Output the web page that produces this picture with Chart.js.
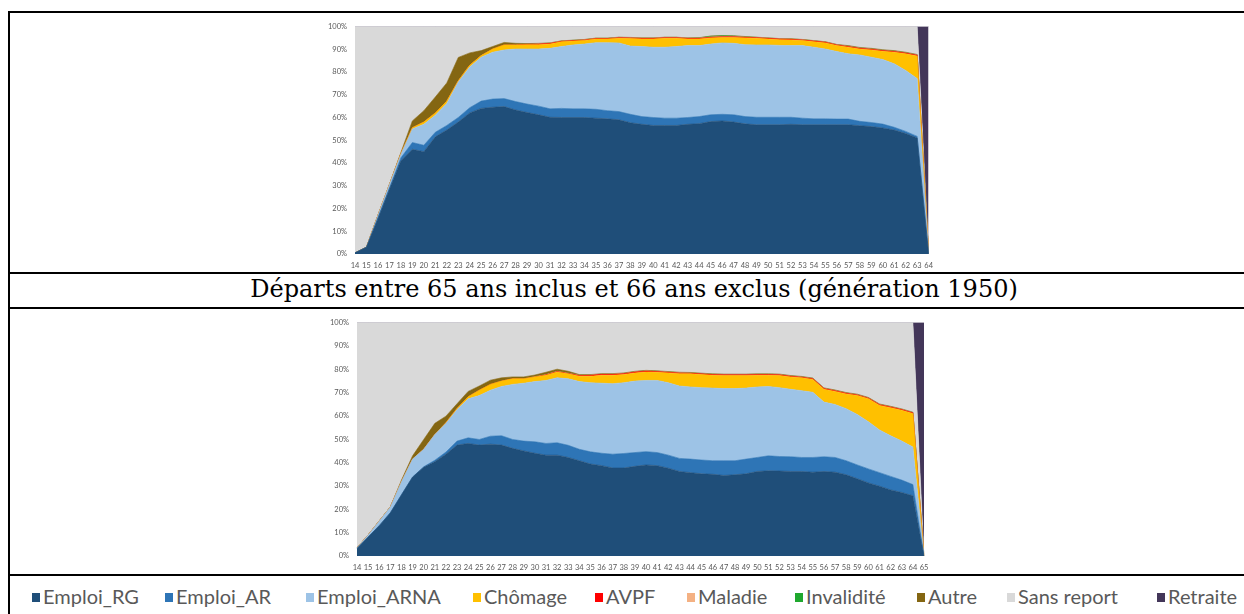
<!DOCTYPE html>
<html>
<head>
<meta charset="utf-8">
<script src="https://cdn.jsdelivr.net/npm/chart.js@4.4.1/dist/chart.umd.min.js"></script>
<style>
  body { margin: 0; background: #fff; width: 1244px; height: 614px; overflow: hidden; position: relative; }
  .hl { position: absolute; left: 8px; right: 0; height: 2px; background: #000; z-index: 5; }
  .vl { position: absolute; left: 8px; top: 11px; bottom: 0; width: 2px; background: #000; z-index: 5; }
  .box { position: absolute; }
  #title { position: absolute; left: 10px; width: 1248px; top: 277px; text-align: center;
           font-family: "DejaVu Serif"; font-size: 24px; line-height: 24px; color: #000; white-space: nowrap; }
  .leg { position: absolute; top: 586px; font-family: Lato; font-size: 20px; line-height: 20px;
         color: #595959; white-space: nowrap; padding-left: 11px; }
  .leg i { position: absolute; left: 0; top: 7px; width: 8px; height: 9px; }
</style>
</head>
<body>
<div class="hl" style="top:11px"></div>
<div class="hl" style="top:272px"></div>
<div class="hl" style="top:307px"></div>
<div class="hl" style="top:574px"></div>
<div class="vl"></div>

<div class="box" style="left:290px;top:14px;width:650px;height:258px"><canvas id="c1" width="650" height="258"></canvas></div>
<div id="title">Départs entre 65 ans inclus et 66 ans exclus (génération 1950)</div>
<div class="box" style="left:290px;top:310px;width:650px;height:264px"><canvas id="c2" width="650" height="264"></canvas></div>
<div id="legend"></div>

<script>
// catégories (âge)
const ages1 = ['14','15','16','17','18','19','20','21','22','23','24','25','26','27','28','29','30','31','32','33','34','35','36','37','38','39','40','41','42','43','44','45','46','47','48','49','50','51','52','53','54','55','56','57','58','59','60','61','62','63','64'];
const ages2 = ['14','15','16','17','18','19','20','21','22','23','24','25','26','27','28','29','30','31','32','33','34','35','36','37','38','39','40','41','42','43','44','45','46','47','48','49','50','51','52','53','54','55','56','57','58','59','60','61','62','63','64','65'];

const seriesNames = ['Emploi_RG', 'Emploi_AR', 'Emploi_ARNA', 'Chômage', 'AVPF', 'Maladie', 'Invalidité', 'Autre', 'Sans report', 'Retraite'];
const seriesColors = ['#1F4E79', '#2E75B6', '#9DC3E6', '#FFC000', '#FF0000', '#F4B183', '#1FA82E', '#846612', '#D9D9D9', '#433659'];

// graphique 1 (départs à 64 ans), en %
const rg1 = [0.5,3,15.5,28.5,41,46,45,51.5,54.5,58, 62,64,64.5,64.8,63.3,62.2,61.2,60.1,60,60, 60,59.7,59.4,59,57.7,57,56.5,56.5,56.5,57, 57.3,58.2,58.5,58,57.2,56.8,56.8,56.8,57,56.8, 56.8,56.8,56.8,56.8,56.4,56,55.4,54.5,53,51, 0];
const ar1 = [0,0,0.5,0.5,1.3,3,2.8,2,2,2, 2.3,3.2,3.6,3.5,3.7,3.7,3.8,3.7,4,3.8, 3.8,3.9,3.6,3.6,3.7,3.4,3.5,3.2,3.2,3, 3.1,3,2.9,3.2,3.2,3.3,3.3,3.3,3.1,2.9, 2.6,2.6,2.5,2.5,1.9,1.8,1.7,1.2,0.9,0.7, 0];
const arna1 = [0,0,1,1.5,1.5,6,9.2,7.5,9.7,15.6, 17.9,19.3,20.6,21.4,23.1,24.2,25.1,26.6,27.2,28.1, 28.5,29.3,29.9,30.2,30,30.8,30.9,31.2,31.5,31.6, 31.2,31.1,31.4,31.4,31.6,31.8,31.8,31.6,31.5,31.9, 31.5,30.7,29.7,28.7,29.2,28.7,28.4,27.9,26.8,25.4, 0];
const chom1 = [0,0,0,0,0.3,0.5,1,1,1,0.5, 0.8,0.7,1.4,2.2,1.8,1.9,1.9,1.9,2.1,1.7, 1.6,1.6,1.6,2,3.3,3.3,3.6,3.9,3.6,2.9, 2.9,2.7,2.4,2.6,3,2.9,2.6,2.5,2.5,2.2, 2.4,2.7,2.6,2.9,2.6,3.2,3.6,5.1,7.3,9.9, 0];
const avpf1 = [0,0,0,0,0,0,0,0,0,0, 0,0,0,0,0,0.2,0.3,0.3,0.2,0.2, 0.2,0.2,0.2,0.3,0.3,0.3,0.3,0.3,0.3,0.3, 0.3,0.3,0.3,0.3,0.3,0.3,0.3,0.3,0.3,0.3, 0.3,0.3,0.3,0.3,0.3,0.3,0.3,0.3,0.3,0.4, 0];
const mal1 = [0,0,0,0,0,0,0,0,0,0, 0,0,0,0,0,0,0.1,0.1,0.1,0.1, 0.1,0.1,0.1,0.1,0.1,0.1,0.1,0.1,0.1,0.1, 0.1,0.1,0.1,0.1,0.1,0.1,0.1,0.1,0.1,0.1, 0.1,0.1,0.1,0.1,0.1,0.1,0.1,0.1,0.1,0.1, 0];
const inv1 = [0,0,0,0,0,0,0,0,0,0, 0,0,0,0,0,0,0,0,0,0, 0,0,0,0,0,0,0,0,0,0, 0.1,0.3,0.3,0.2,0.1,0,0,0,0,0, 0,0,0,0,0,0,0,0,0,0, 0];
const autre1 = [0,0,0,0,0.5,3,5,7,8,10.3, 5.4,2.2,1.1,1.1,0.7,0.3,0.2,0.1,0.1,0.1, 0.1,0.1,0.1,0.1,0.1,0.1,0.1,0.1,0.1,0.1, 0.1,0.1,0.1,0.1,0.1,0.1,0.1,0.1,0.1,0.1, 0.1,0.1,0.1,0.3,0.3,0.3,0.3,0.3,0.3,0.2, 0];
const sans1 = [99.5,97,83,69.5,55.4,41.5,37,31,24.8,13.6, 11.6,10.6,8.8,7,7.4,7.5,7.4,7.2,6.3,6, 5.7,5.1,5.1,4.7,4.8,5,5,4.7,4.7,5, 4.9,4.2,4,4.1,4.4,4.7,5,5.3,5.4,5.7, 6.2,6.7,7.9,8.4,9.2,9.6,10.2,10.6,11.3,12.3, 0];
const retr1 = [0,0,0,0,0,0,0,0,0,0, 0,0,0,0,0,0,0,0,0,0, 0,0,0,0,0,0,0,0,0,0, 0,0,0,0,0,0,0,0,0,0, 0,0,0,0,0,0,0,0,0,0, 100];

// graphique 2 (départs entre 65 et 66 ans), en %
const rg2 = [3.2,8.1,13,18.5,26.2,33.8,38,40.4,43.6,47.5, 48.2,47.5,47.9,47.5,46.1,45,44,43.2,43.2,42.2, 40.8,39.4,38.7,37.7,37.7,38.4,39,38.7,37.6,36.2, 35.7,35.2,35,34.5,34.8,35.2,36.2,36.5,36.4,36.2, 36.2,35.9,36.2,35.9,34.8,33.1,31.3,29.9,28.3,27.2, 25.8,0];
const ar2 = [0,0,0,0,0,0,0.2,0.6,0.9,1.7, 2.4,2.4,3.4,4,3.8,4.2,4.9,5,5.3,5.2, 4.9,5.2,5.3,5.9,6.2,5.9,5.7,5.6,5.6,5.6, 5.8,5.9,5.8,6.3,6,6.3,6,6.4,6.2,6.3, 6,6.3,6.3,6.3,6,5.9,6,5.8,5.8,5.3, 4.8,0];
const arna2 = [0.3,0.9,2,2.5,5.6,7.7,7.5,11,12.3,13.5, 16.7,18.8,19.7,21.1,23.6,24.8,25.8,27,27.8,28.5, 29,29.6,30,30.2,30.3,30.6,30.5,30.9,31,31, 30.9,31,31.1,30.9,30.9,30.4,30.2,29.7,29.5,28.9, 28.6,27.9,23.4,22.7,22.3,21.6,20.2,18.3,17.4,16.7, 16.1,0];
const chom2 = [0,0,0,0,0,0,0,0,0.3,0.5, 0.9,2.3,2.5,2.3,2.4,1.9,2,2.2,2.5,2.1, 2.3,2.8,3.4,3.6,3.5,3.5,3.6,3.5,4.2,5.3, 5.6,5.6,5.5,5.6,5.6,5.4,5,4.8,5.2,5.3, 5.5,5.5,5.5,5.6,6.3,8.1,9.8,10.5,12,13.2, 14.3,0];
const avpf2 = [0,0,0,0,0,0,0,0,0,0, 0,0,0,0,0,0,0,0.2,0.2,0.2, 0.3,0.4,0.4,0.4,0.4,0.4,0.4,0.3,0.3,0.3, 0.3,0.3,0.3,0.3,0.3,0.3,0.3,0.3,0.3,0.3, 0.3,0.3,0.3,0.3,0.3,0.3,0.3,0.3,0.3,0.3, 0.3,0];
const mal2 = [0,0,0,0,0,0,0,0,0,0, 0,0,0,0,0,0,0.1,0.1,0.1,0.1, 0.1,0.1,0.1,0.1,0.1,0.1,0.1,0.1,0.1,0.1, 0.1,0.1,0.1,0.1,0.1,0.1,0.1,0.1,0.1,0.1, 0.1,0.1,0.1,0.1,0.1,0.1,0.1,0.1,0.1,0.1, 0.1,0];
const inv2 = [0,0,0,0,0,0,0,0,0,0, 0,0,0,0,0,0,0,0,0,0, 0,0,0,0,0,0,0,0,0,0, 0,0,0,0,0,0,0,0,0,0, 0,0,0,0,0,0,0,0,0,0, 0,0];
const autre2 = [0,0,0,0,0.7,1.4,4.2,4.8,2.8,2, 2.3,1.8,1.8,1.4,0.8,0.8,0.7,1,0.9,0.8, 0.3,0.2,0.2,0.2,0.2,0.2,0.2,0.2,0.2,0.2, 0.2,0.2,0.2,0.2,0.2,0.2,0.2,0.2,0.2,0.2, 0.2,0.2,0.2,0.2,0.2,0.2,0.2,0.2,0.2,0.2, 0.2,0];
const sans2 = [96.5,91,85,79,67.5,57.1,50.1,43.2,40.1,34.8, 29.5,27.2,24.7,23.7,23.3,23.3,22.5,21.3,20,20.9, 22.3,22.3,21.9,21.9,21.6,20.9,20.5,20.7,21,21.3, 21.4,21.7,22,22.1,22.1,22.1,22,22,22.1,22.7, 23.1,23.8,28,28.9,30,30.7,32.1,34.9,35.9,37, 38.4,0];
const retr2 = [0,0,0,0,0,0,0,0,0,0, 0,0,0,0,0,0,0,0,0,0, 0,0,0,0,0,0,0,0,0,0, 0,0,0,0,0,0,0,0,0,0, 0,0,0,0,0,0,0,0,0,0, 0,100];

const yTicks = ['0%','10%','20%','30%','40%','50%','60%','70%','80%','90%','100%'];

function buildDatasets(values) {
  return values.map((v, i) => ({
    label: seriesNames[i],
    data: v,
    backgroundColor: seriesColors[i],
    borderColor: seriesColors[i],
    borderWidth: 0.6,
    pointRadius: 0,
    tension: 0,
    fill: i === 0 ? 'origin' : '-1'
  }));
}

function areaChart(id, labels, values, yWidth, xHeight, pad) {
  const tickFont = { family: 'Lato', size: 7.5 };
  return new Chart(document.getElementById(id), {
    type: 'line',
    data: { labels: labels, datasets: buildDatasets(values) },
    options: {
      responsive: false,
      animation: false,
      layout: { padding: pad },
      plugins: { legend: { display: false }, tooltip: { enabled: false } },
      scales: {
        x: {
          offset: false,
          grid: { display: false, drawTicks: false },
          border: { display: false },
          ticks: { autoSkip: false, maxRotation: 0, padding: 7, color: '#595959', font: tickFont },
          afterFit: s => { s.height = xHeight; }
        },
        y: {
          stacked: true,
          min: 0, max: 100,
          grid: { display: false, drawTicks: false },
          border: { display: false },
          ticks: { stepSize: 10, padding: 8, color: '#595959', font: tickFont,
                   callback: (v, i) => yTicks[i] },
          afterFit: s => { s.width = yWidth; }
        }
      }
    }
  });
}

areaChart('c1', ages1, [rg1, ar1, arna1, chom1, avpf1, mal1, inv1, autre1, sans1, retr1], 65, 18, { top: 10, right: 11, bottom: 0, left: 0 });
areaChart('c2', ages2, [rg2, ar2, arna2, chom2, avpf2, mal2, inv2, autre2, sans2, retr2], 67, 18, { top: 7, right: 16, bottom: 0, left: 0 });

// légende commune
const legendX = [32, 165, 306, 473, 595, 687, 795, 917, 1007, 1157];
const legend = document.getElementById('legend');
seriesNames.forEach((name, i) => {
  const d = document.createElement('div');
  d.className = 'leg';
  d.style.left = legendX[i] + 'px';
  d.innerHTML = '<i style="background:' + seriesColors[i] + '"></i>' + name;
  legend.appendChild(d);
});
</script>
</body>
</html>
